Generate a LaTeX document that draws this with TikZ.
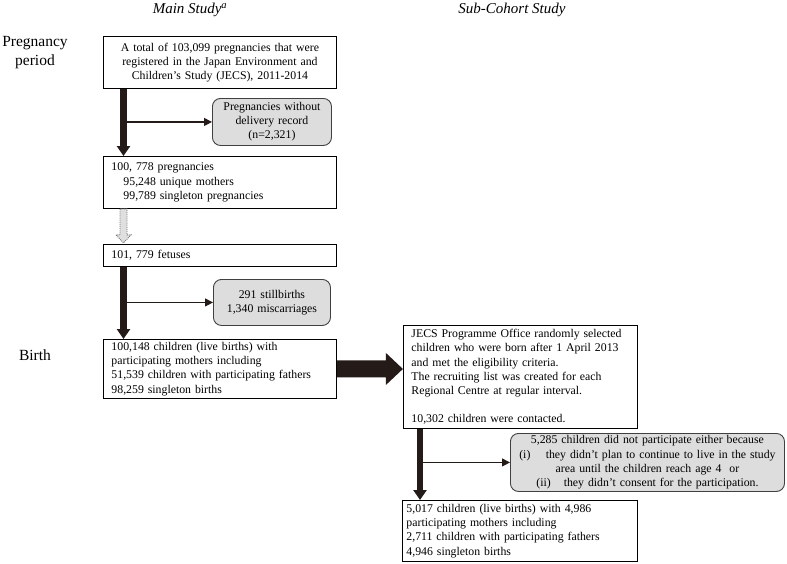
\documentclass[tikz,border=0pt]{standalone}
\usepackage{fontspec}
\setmainfont{Liberation Serif}
\usepackage{xcolor}
\usetikzlibrary{arrows.meta,calc}
\definecolor{boxGray}{RGB}{221,221,221}
\definecolor{barDark}{RGB}{36,26,24}

\begin{document}
\begin{tikzpicture}[x=1pt, y=-1pt,
    flowbox/.style={draw, line width=0.9pt, anchor=north west, inner ysep=1pt,
        font=\fontsize{11.8}{14.2}\selectfont},
    leftbox/.style={flowbox, align=left, inner xsep=8pt},
    exclbox/.style={flowbox, fill=boxGray, draw=black!75, rounded corners=8pt,
        align=center, inner xsep=4pt},
    bar/.style={barDark, line width=6.5pt, -{Triangle[length=10pt, width=13pt]}},
    branch/.style={barDark, line width=1.2pt, -{Triangle[length=8pt, width=8pt]}},
    dotarrow/.style={fill=gray!25, draw=black!55, densely dotted, line width=0.9pt},
    sidelabel/.style={align=center, font=\fontsize{15.5}{19}\selectfont},
    columntitle/.style={font=\fontsize{15}{18}\selectfont\itshape}]
    \useasboundingbox (0,0) rectangle (787,563);

    % Column titles and periods
    \node[columntitle] (tmain) at (190,10) {Main Study\textsuperscript{a}};
    \node[columntitle] (tsub) at (512,10) {Sub-Cohort Study};
    \node[sidelabel] (lpreg) at (35,53) {Pregnancy\\period};
    \node[sidelabel] (lbirth) at (35,355) {Birth};

    % Main study boxes
    \node[flowbox, align=center, inner xsep=4pt, text width=225pt, minimum height=52pt] (reg) at (103,36)
        {A total of 103,099 pregnancies that were registered in the Japan Environment and Children's Study (JECS), 2011-2014};
    \node[exclbox, text width=111pt, minimum height=47pt] (nodel) at (212,98)
        {Pregnancies without\\delivery record\\(n=2,321)};
    \node[leftbox, text width=217pt, minimum height=52pt] (preg) at (103,156)
        {100, 778 pregnancies\\
         \hspace*{12pt}95,248 unique mothers\\
         \hspace*{12pt}99,789 singleton pregnancies};
    \node[leftbox, text width=217pt, minimum height=22pt] (fet) at (103,244)
        {101, 779 fetuses};
    \node[exclbox, text width=109pt, minimum height=46pt] (loss) at (213,279)
        {291 stillbirths\\1,340 miscarriages};
    \node[leftbox, text width=217pt, minimum height=59pt] (birth) at (103,339)
        {100,148 children (live births) with\\
         participating mothers including\\
         51,539 children with participating fathers\\
         98,259 singleton births};

    % Sub-cohort boxes
    \node[leftbox, text width=218pt, minimum height=103pt] (jecs) at (403,325)
        {JECS Programme Office randomly selected\\
         children who were born after 1 April 2013\\
         and met the eligibility criteria.\\
         The recruiting list was created for each\\
         Regional Centre at regular interval.\\[14.2pt]
         10,302 children were contacted.};
    \node[exclbox, text width=266pt, minimum height=58pt] (nonp) at (510,433)
        {5,285 children did not participate either because\\
         (i)\hspace{1.3em}they didn't plan to continue to live in the study\\
         area until the children reach age 4\ \ or\\
         (ii)\hspace{1.1em}they didn't consent for the participation.};
    \node[leftbox, inner xsep=4pt, text width=227pt, minimum height=61pt] (sub) at (402,500)
        {5,017 children (live births) with 4,986\\
         participating mothers including\\
         2,711 children with participating fathers\\
         4,946 singleton births};

    % Flow bars with exclusions
    \coordinate (regbar) at ([xshift=20.5pt]reg.south west);
    \draw[bar] (regbar) -- (regbar |- preg.north);
    \draw[branch] (regbar |- nodel.west) -- (nodel.west);

    \coordinate (fetbar) at ([xshift=20.5pt]fet.south west);
    \draw[bar] (fetbar) -- (fetbar |- birth.north);
    \draw[branch] (fetbar |- loss.west) -- (loss.west);

    \coordinate (jecsbar) at ([xshift=17pt]jecs.south west);
    \draw[bar] (jecsbar) -- (jecsbar |- sub.north);
    \draw[branch] (jecsbar |- nonp.west) -- (nonp.west);

    % Dotted arrow (pregnancies to fetuses)
    \coordinate (dtop) at ([xshift=20.5pt]preg.south west);
    \filldraw[dotarrow] (dtop) ++(-3.5,0) -- ++(0,26) -- ++(-4,0) -- ++(7.5,8)
        -- ++(7.5,-8) -- ++(-4,0) -- ++(0,-26) -- cycle;

    % Block arrow to sub-cohort
    \fill[barDark] (birth.east) ++(0,-8.5) -- ++(49,0) -- ++(0,-7.5) -- ++(17,16)
        -- ++(-17,16) -- ++(0,-7.5) -- ++(-49,0) -- cycle;
\end{tikzpicture}
\end{document}
